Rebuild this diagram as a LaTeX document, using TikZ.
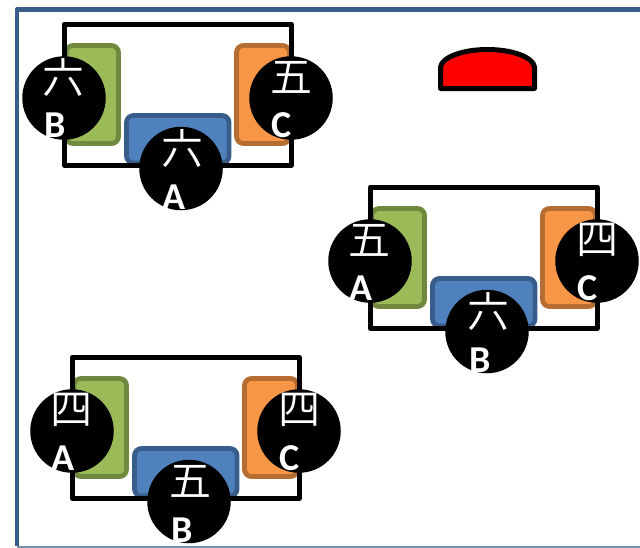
\documentclass[tikz,border=0pt]{standalone}
\usepackage{fontspec}
\setmainfont{Carlito}
\newfontfamily\cjk{Noto Sans CJK JP DemiLight}
\definecolor{framecol}{HTML}{385D8A}
\definecolor{bluefill}{HTML}{4F81BD}
\definecolor{greenfill}{HTML}{9BBB59}
\definecolor{greenline}{HTML}{71893F}
\definecolor{orangefill}{HTML}{F79646}
\definecolor{orangeline}{HTML}{B66D31}
\tikzset{
  pad/.style={line width=4.8pt, rounded corners=7pt},
  disc/.style={circle, fill=black, minimum size=83.5pt, inner sep=0pt},
  kanji/.style={white, inner sep=0pt, font=\cjk\fontsize{42}{42}\selectfont},
  letter/.style={white, inner sep=0pt, font=\bfseries\fontsize{38}{38}\selectfont}
}
\begin{document}
\begin{tikzpicture}[x=1pt,y=-1pt]
    \useasboundingbox (0,0) rectangle (640,547);
    \draw[framecol, line width=4.5pt, line join=round] (17,546) -- (17,9.5) -- (642,9.5);
    \draw[framecol!70, line width=2pt] (17,546.5) -- (640,546.5);

    \draw[black, line width=5pt, line join=round, fill=red] (440.5,88.5) -- (440.5,67)
        .. controls (442,57) and (463,49.5) .. (487.5,49.5)
        .. controls (512,49.5) and (533,57) .. (534.5,67) -- (534.5,88.5) -- cycle;

    \foreach \dx/\dy/\g/\kl/\ll/\kb/\lb/\kr in {0/0/p/六/B/六/A/五, 306/163/q/五/A/六/B/四, 8/333/r/四/A/五/B/四} {
    \begin{scope}[shift={(\dx,\dy)}]
        \draw[pad, draw=greenline, fill=greenfill] (66,45.5) rectangle (118.5,143.5);
        \draw[pad, draw=orangeline, fill=orangefill] (236.5,45.5) rectangle (289.5,143.5);
        \draw[pad, draw=framecol, fill=bluefill] (126.5,115.5) rectangle (229,163);
        \draw[black, line width=5pt, line join=round] (64.5,24) rectangle (291,165.5);

        \node[disc] (\g left) at (64,98) {};
        \node[disc] (\g right) at (291,98) {};
        \node[disc] (\g bottom) at (181,168.5) {};

        \node[kanji] (\g kleft) at (63.5,77) {\kl};
        \node[kanji] (\g kright) at (291.5,77) {\kr};
        \node[kanji] (\g kbottom) at (182,148) {\kb};

        \node[letter] (\g lleft) at (55,125) {\ll};
        \node[letter] (\g lright) at (282,125) {C};
        \node[letter] (\g lbottom) at (174,197) {\lb};
    \end{scope}
    }
\end{tikzpicture}
\end{document}
